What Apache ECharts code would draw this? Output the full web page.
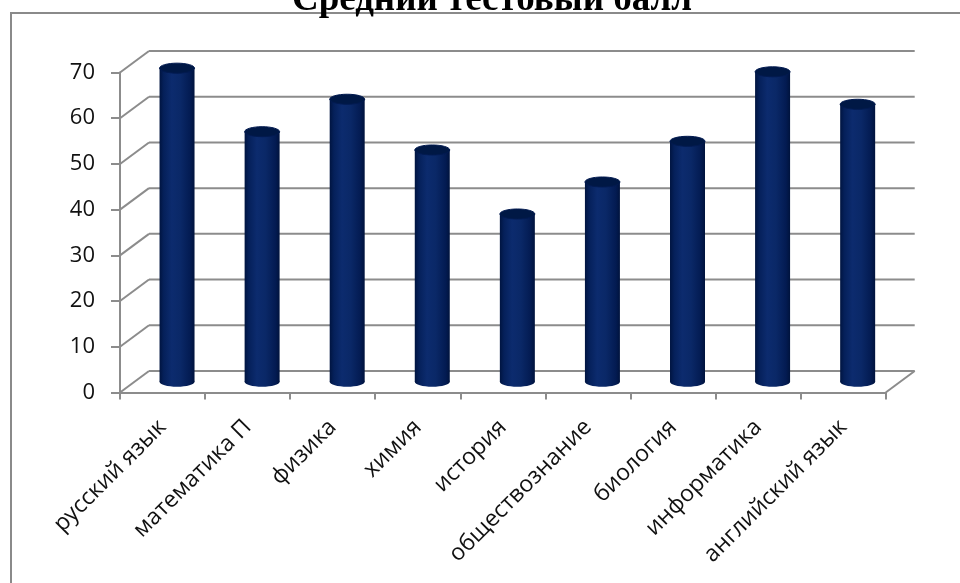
<!DOCTYPE html>
<html>
<head>
<meta charset="utf-8">
<script src="https://cdn.jsdelivr.net/npm/echarts@6/dist/echarts.min.js"></script>
<style>
html,body{margin:0;padding:0;background:#fff;}
#chart{width:960px;height:583px;}
</style>
</head>
<body>
<div id="chart"></div>
<script>
const titleText = 'Средний тестовый балл';
const categories = ['русский язык', 'математика П', 'физика', 'химия', 'история', 'обществознание', 'биология', 'информатика', 'английский язык'];
const scores = [68.6, 54.7, 61.8, 50.7, 36.7, 43.7, 52.6, 67.8, 60.7];
const yTicks = [0, 10, 20, 30, 40, 50, 60, 70];

const DX = 29, DY = -21.5;
const GRID_COLOR = '#8c8c8c';
const FONT = '"Open Sans", "Noto Sans", sans-serif';

const chart = echarts.init(document.getElementById('chart'), null, {renderer: 'canvas'});

const barFill = {
  type: 'linear', x: 0, y: 0, x2: 1, y2: 0,
  colorStops: [
    {offset: 0, color: '#001440'},
    {offset: 0.12, color: '#05205a'},
    {offset: 0.35, color: '#0c2b6e'},
    {offset: 0.6, color: '#0a2867'},
    {offset: 0.88, color: '#031b52'},
    {offset: 1, color: '#00133d'}
  ]
};

const option = {
  animation: false,
  backgroundColor: '#fff',
  graphic: [
    {type: 'rect', shape: {x: 11, y: 13, width: 1000, height: 700},
     style: {fill: 'none', stroke: '#8a8a8a', lineWidth: 2}, silent: true, z: 0},
    {type: 'text', x: 492, y: 0,
     style: {text: titleText, font: 'bold 37px "Liberation Serif", "DejaVu Serif", serif',
             fill: '#000', textAlign: 'center', textVerticalAlign: 'middle'}, silent: true, z: 10}
  ],
  grid: {left: 120, top: 72.5, width: 765.7, height: 320, containLabel: false},
  xAxis: {
    type: 'category', data: categories, boundaryGap: true,
    axisLine: {show: true, lineStyle: {color: GRID_COLOR, width: 2}},
    axisTick: {show: true, length: 7, interval: 0, lineStyle: {color: GRID_COLOR, width: 2}},
    axisLabel: {rotate: 45, interval: 0, margin: 31, fontSize: 23, color: '#111', fontFamily: FONT},
    splitLine: {show: false}
  },
  yAxis: {
    type: 'value', min: 0, max: 70, interval: 10,
    axisLine: {show: true, lineStyle: {color: GRID_COLOR, width: 2}},
    axisTick: {show: true, length: 9, lineStyle: {color: GRID_COLOR, width: 2}},
    axisLabel: {margin: 25, fontSize: 22, color: '#111', fontFamily: FONT},
    splitLine: {show: false}
  },
  series: [
    {
      type: 'custom', silent: true, z: 1,
      data: yTicks.map(v => [0, v]),
      encode: {x: 0, y: 1},
      renderItem: function (params, api) {
        const cs = params.coordSys;
        const v = api.value(1);
        const y = api.coord([0, v])[1];
        const st = {stroke: GRID_COLOR, lineWidth: 2};
        const children = [
          {type: 'line', shape: {x1: cs.x, y1: y, x2: cs.x + DX, y2: y + DY}, style: st},
          {type: 'line', shape: {x1: cs.x + DX, y1: y + DY, x2: cs.x + cs.width + DX, y2: y + DY}, style: st}
        ];
        if (v === 0) {
          children.push({type: 'line', shape: {x1: cs.x + cs.width, y1: y, x2: cs.x + cs.width + DX, y2: y + DY}, style: st});
        }
        return {type: 'group', children: children};
      }
    },
    {
      type: 'custom', silent: true, z: 5,
      data: scores.map((v, i) => [i, v]),
      encode: {x: 0, y: 1},
      renderItem: function (params, api) {
        const top = api.coord([api.value(0), api.value(1)]);
        const base = api.coord([api.value(0), 0]);
        const cx = top[0] + DX / 2;
        const yTop = top[1] + DY / 2;
        const yBase = base[1] + DY / 2;
        const w = 35, ry = 5;
        return {
          type: 'group',
          children: [
            {type: 'ellipse', shape: {cx: cx, cy: yBase, rx: w / 2, ry: ry}, style: {fill: barFill}},
            {type: 'rect', shape: {x: cx - w / 2, y: yTop, width: w, height: yBase - yTop}, style: {fill: barFill}},
            {type: 'ellipse', shape: {cx: cx, cy: yTop, rx: w / 2, ry: ry},
             style: {fill: '#001845', stroke: '#021a50', lineWidth: 1}}
          ]
        };
      }
    }
  ]
};
chart.setOption(option);
</script>
</body>
</html>
